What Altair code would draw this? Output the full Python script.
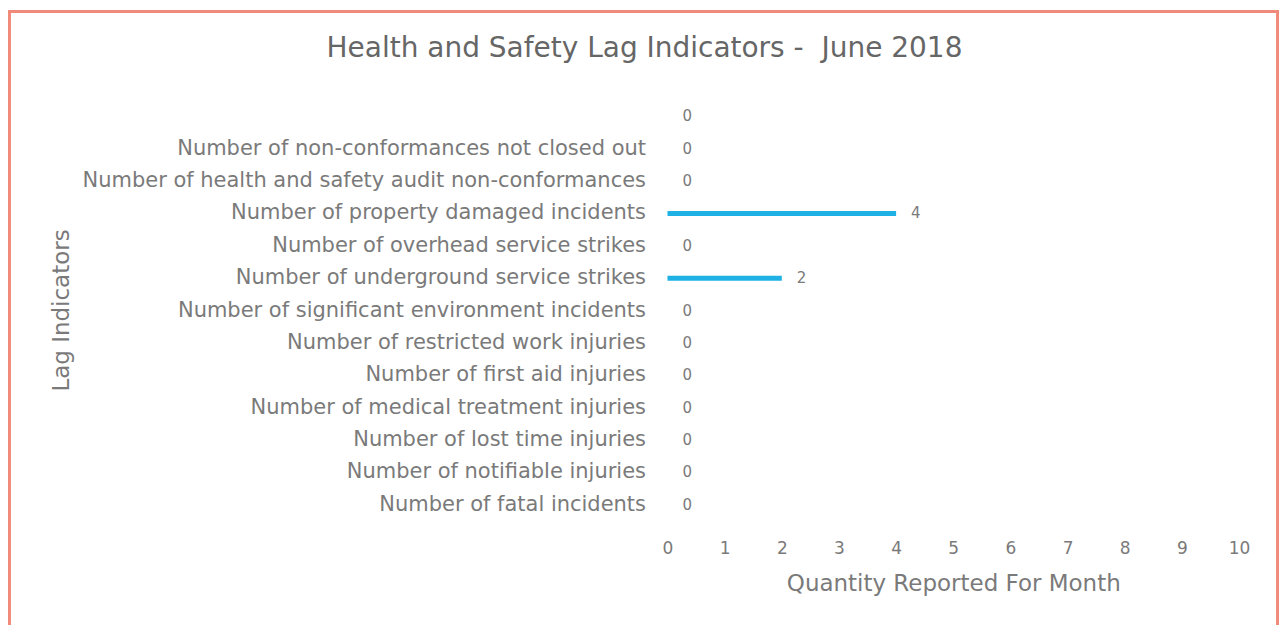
import altair as alt
import pandas as pd

categories = [
    "",
    "Number of non-conformances not closed out",
    "Number of health and safety audit non-conformances",
    "Number of property damaged incidents",
    "Number of overhead service strikes",
    "Number of underground service strikes",
    "Number of significant environment incidents",
    "Number of restricted work injuries",
    "Number of first aid injuries",
    "Number of medical treatment injuries",
    "Number of lost time injuries",
    "Number of notifiable injuries",
    "Number of fatal incidents",
]
values = [0, 0, 0, 4, 0, 2, 0, 0, 0, 0, 0, 0, 0]
x_ticks = list(range(0, 11))

df = pd.DataFrame({"indicator": categories, "qty": values})

FONT = "DejaVu Sans"
GREY = "#7a7a7a"

y_enc = alt.Y(
    "indicator:N",
    sort=categories,
    title="Lag Indicators",
    axis=alt.Axis(
        labelFont=FONT, labelFontSize=21, labelColor=GREY, labelLimit=700,
        labelPadding=22, ticks=False, domain=False, grid=False,
        titleFont=FONT, titleFontSize=23, titleColor=GREY, titleFontWeight="normal",
        titleX=-606, titleY=210, titleAlign="center", titleBaseline="middle",
        titleAngle=270,
    ),
    scale=alt.Scale(paddingInner=0.0, paddingOuter=0.0),
)
x_enc = alt.X(
    "qty:Q",
    title="Quantity Reported For Month",
    scale=alt.Scale(domain=[0, 10], nice=False),
    axis=alt.Axis(
        values=x_ticks, format="d", labelFont=FONT, labelFontSize=17, labelColor=GREY,
        labelPadding=20, labelFlush=False, ticks=False, domain=False, grid=False,
        titleFont=FONT, titleFontSize=23, titleColor=GREY, titleFontWeight="normal",
        titleX=286, titleY=63, titleAlign="center", titleBaseline="middle",
    ),
)

bars = alt.Chart(df).mark_bar(color="#1fb0e4", height=5).encode(x=x_enc, y=y_enc)
labels = alt.Chart(df).mark_text(
    align="left", dx=15, font=FONT, fontSize=15, color=GREY
).encode(x=alt.X("qty:Q"), y=alt.Y("indicator:N", sort=categories), text="qty:Q")

border = alt.Chart(df).mark_rect(
    fill=None, stroke="#f08a7a", strokeWidth=2.5, clip=False
).encode(
    x=alt.value(-659), x2=alt.value(611), y=alt.value(-89), y2=alt.value(560)
)

chart = (
    alt.layer(border, bars, labels)
    .properties(
        width=572,
        height=421,
        background="white",
        title=alt.Title(
            "Health and Safety Lag Indicators -\u00a0 June 2018",
            font=FONT, fontSize=28, color="#666666", fontWeight="normal",
            anchor="middle", frame="group", offset=-53, dx=-309,
        ),
        autosize=alt.AutoSizeParams(type="none"),
        padding={"left": 660, "top": 92, "right": 40, "bottom": 104},
    )
    .configure_view(strokeWidth=0, stroke="transparent")
)

chart.save("out.html", embed_options={"renderer": "svg", "actions": False})
